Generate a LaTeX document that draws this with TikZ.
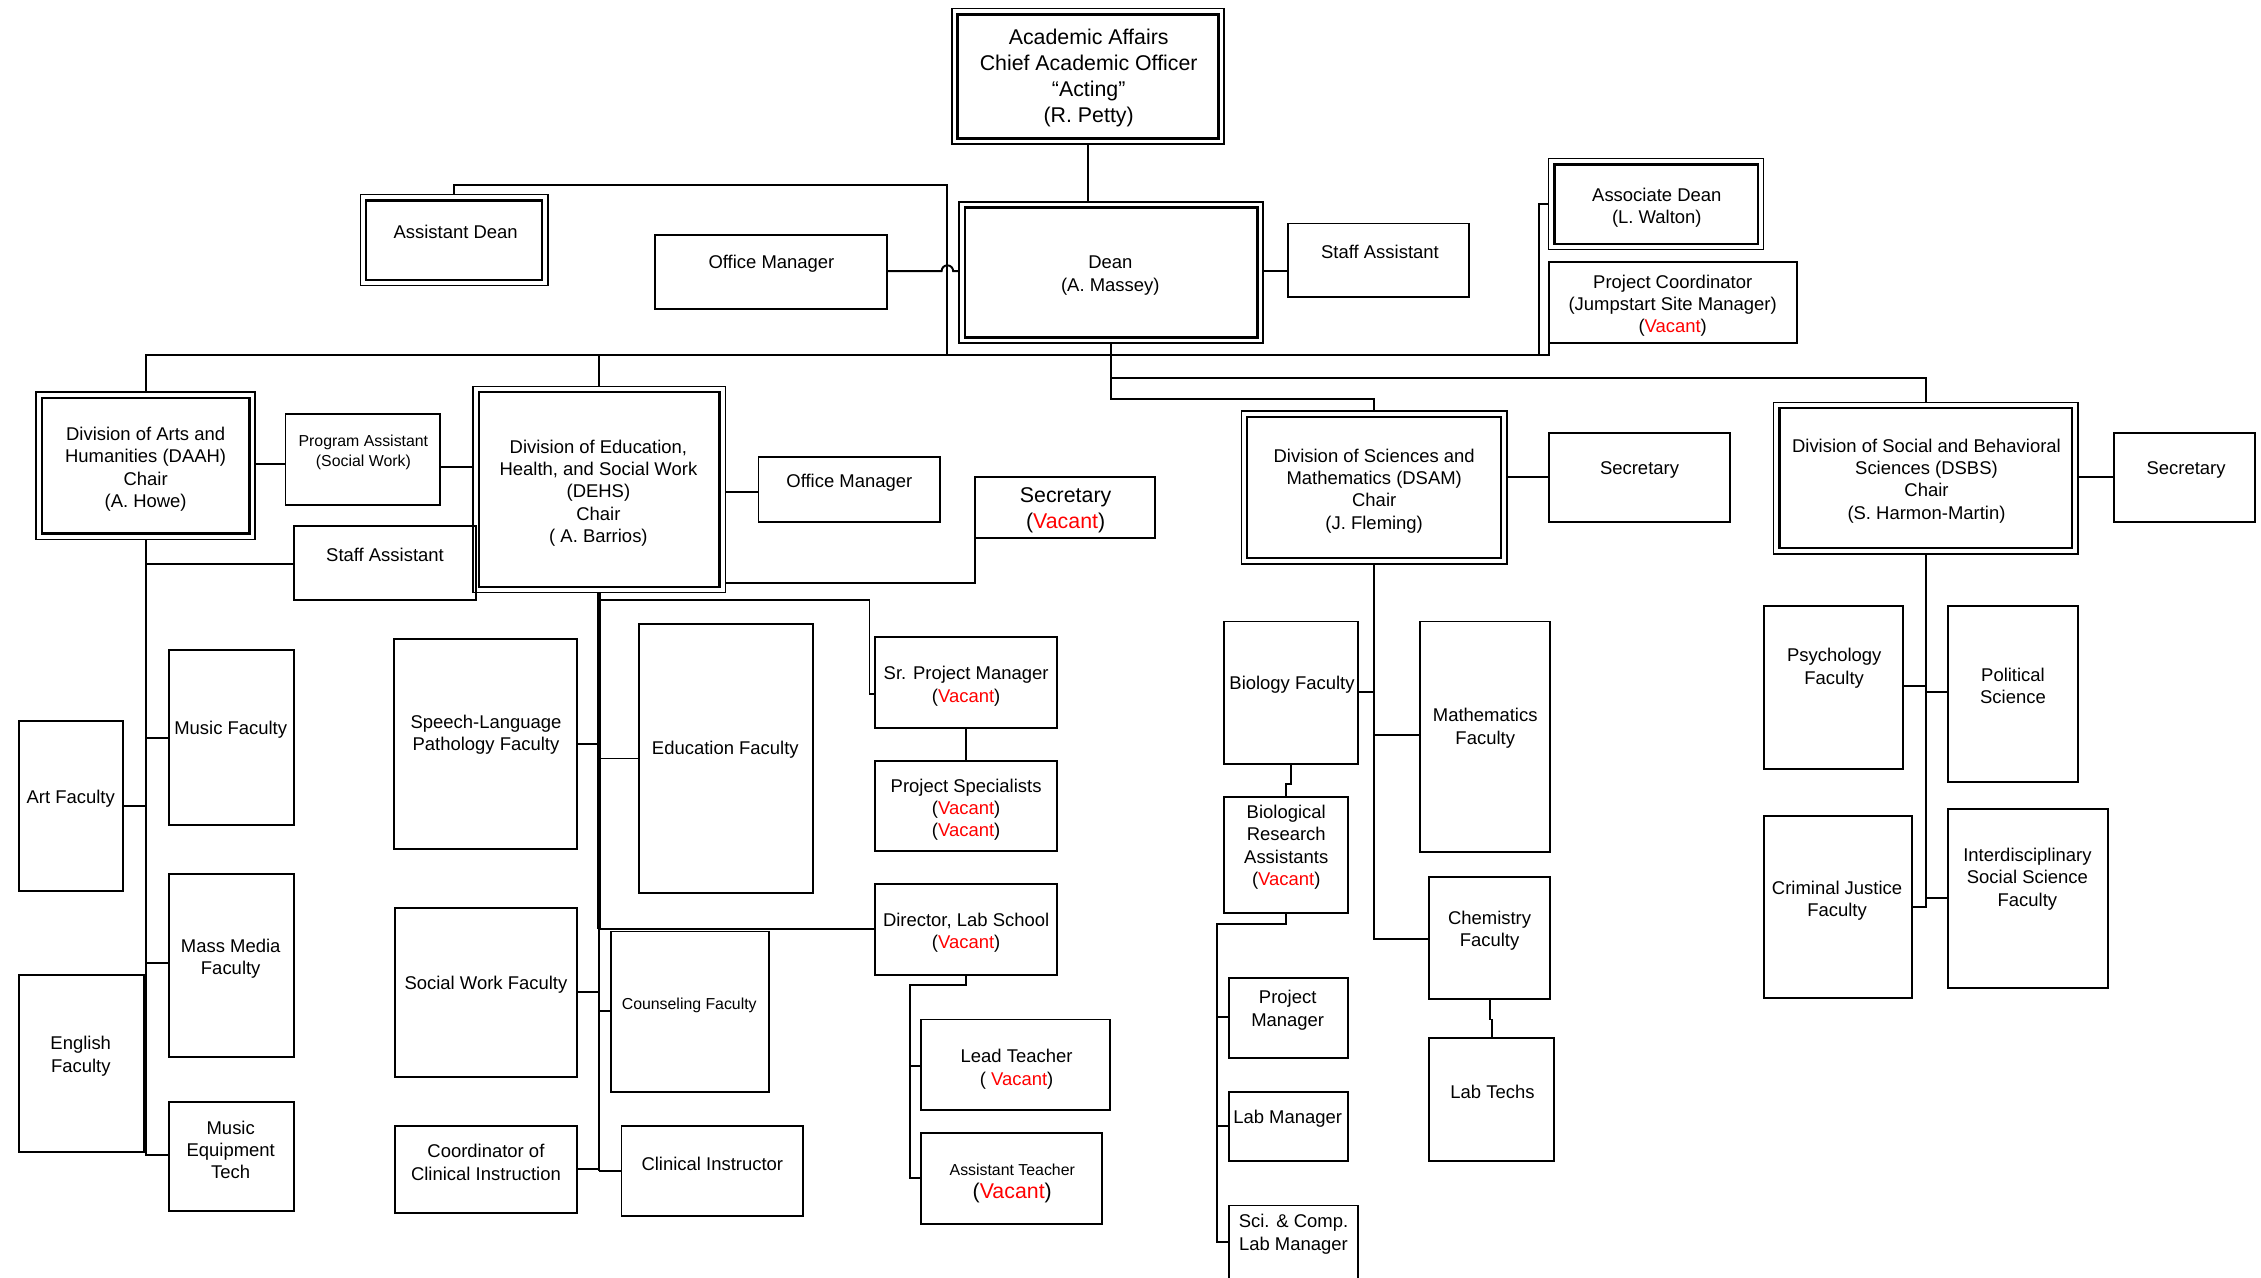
\documentclass[tikz,border=0pt]{standalone}
\usepackage{fontspec}
\setmainfont{Liberation Sans}
\newcommand\vac{\textcolor{red}{Vacant}}
\newcommand\mkbox[5]{\node[bx, minimum width={(#4-#2)*1pt}, minimum height={(#5-#3)*1pt}] (#1) at ({(#2+#4)/2},{(#3+#5)/2}) {};}
\newcommand\mkdbl[5]{\node[dblo, minimum width={(#4-#2)*1pt}, minimum height={(#5-#3)*1pt}] (#1) at ({(#2+#4)/2},{(#3+#5)/2}) {};
  \draw[dbli] ([shift={(4,4)}]#1.north west) rectangle ([shift={(-4,-4)}]#1.south east);}
\newcommand\tx[4][txt]{\node[#1] (#2) at (#3) {#4};}
\tikzset{
  bx/.style={draw, line width=1.35pt, inner sep=0pt, outer sep=0pt},
  dblo/.style={draw, line width=1.1pt, inner sep=0pt, outer sep=0pt},
  dbli/.style={line width=1.6pt},
  txtbase/.style={align=center, inner sep=0pt, yshift=-2pt},
  txt/.style={txtbase, font=\fontsize{12.8}{15.5}\selectfont},
  txtL/.style={txtbase, font=\fontsize{14.8}{18}\selectfont},
  txtS/.style={txtbase, font=\fontsize{11}{14}\selectfont},
  ln/.style={line width=1.35pt},
}
\begin{document}
\begin{tikzpicture}[x=1pt,y=-1pt]
\useasboundingbox (0,0) rectangle (1568,885.6);
% boxes
\mkdbl{acad}{660}{6}{849}{100}
\mkdbl{asstdean}{250}{135}{380}{198}
\mkbox{offmgr1}{454}{163}{615}{214}
\mkdbl{dean}{665}{140}{876}{238}
\mkbox{staff1}{893}{155}{1019}{206}
\mkdbl{assocdean}{1074}{110}{1223}{173}
\mkbox{projcoord}{1074}{182}{1246}{238}
\mkdbl{daah}{25}{272}{177}{374}
\mkbox{progasst}{198}{287}{305}{350}
\mkdbl{dehs}{328}{268}{503}{411}
\mkbox{staff2}{204}{365}{330}{416}
\mkbox{offmgr2}{526}{317}{652}{362}
\mkbox{sec1}{676}{331}{801}{373}
\mkbox{music}{117}{451}{204}{572}
\mkbox{art}{13}{500}{85}{618}
\mkbox{massmedia}{117}{606}{204}{733}
\mkbox{english}{13}{676}{100}{799}
\mkbox{musiceq}{117}{764}{204}{840}
\mkbox{slp}{273}{443}{400}{589}
\mkbox{edu}{443}{433}{564}{619}
\mkbox{socwork}{274}{630}{400}{747}
\mkbox{couns}{424}{646}{533}{757}
\mkbox{coord}{274}{781}{400}{841}
\mkbox{clininst}{431}{781}{557}{843}
\mkbox{srpm}{607}{442}{733}{505}
\mkbox{projspec}{607}{528}{733}{590}
\mkbox{director}{607}{613}{733}{676}
\mkbox{leadteach}{639}{707}{770}{770}
\mkbox{assteach}{639}{786}{764}{849}
\mkdbl{dsam}{861}{285}{1045}{391}
\mkbox{sec2}{1074}{300}{1200}{362}
\mkbox{bio}{849}{431}{942}{530}
\mkbox{math}{985}{431}{1075}{591}
\mkbox{chem}{991}{608}{1075}{693}
\mkbox{labtechs}{991}{720}{1078}{805}
\mkbox{bra}{849}{553}{935}{633}
\mkbox{pm}{852}{678}{935}{734}
\mkbox{labmgr}{852}{757}{935}{805}
\mkbox{scicomp}{852}{836}{942}{892}
\mkdbl{dsbs}{1230}{279}{1441}{384}
\mkbox{sec3}{1466}{300}{1564}{362}
\mkbox{psych}{1223}{420}{1320}{533}
\mkbox{polisci}{1351}{420}{1441}{542}
\mkbox{crimj}{1223}{566}{1326}{692}
\mkbox{interd}{1351}{561}{1462}{685}
% texts
\tx[txtL]{acad-t}{755,52}{Academic Affairs\\Chief Academic Officer\\“Acting”\\(R. Petty)}
\tx{asstdean-t}{316,159}{Assistant Dean}
\tx{offmgr1-t}{535,181}{Office Manager}
\tx{dean-t}{770,189}{Dean\\(A. Massey)}
\tx{staff1-t}{957,173}{Staff Assistant}
\tx{assocdean-t}{1149,142}{Associate Dean\\(L. Walton)}
\tx{projcoord-t}{1160,210}{Project Coordinator\\(Jumpstart Site Manager)\\(\vac)}
\tx{daah-t}{101,323.5}{Division of Arts and\\Humanities (DAAH)\\Chair\\(A. Howe)}
\tx[txtS]{progasst-t}{252,312}{Program Assistant\\(Social Work)}
\tx{dehs-t}{415,340}{Division of Education,\\Health, and Social Work\\(DEHS)\\Chair\\( A. Barrios)}
\tx{staff2-t}{267,383}{Staff Assistant}
\tx{offmgr2-t}{589,333}{Office Manager}
\tx[txtL]{sec1-t}{739,352}{Secretary\\(\vac)}
\tx{music-t}{160,504}{Music Faculty}
\tx{art-t}{49,552}{Art Faculty}
\tx{massmedia-t}{160,663}{Mass Media\\Faculty}
\tx{english-t}{56,730.5}{English\\Faculty}
\tx{musiceq-t}{160,795.5}{Music\\Equipment\\Tech}
\tx{slp-t}{337,507.5}{Speech-Language\\Pathology Faculty}
\tx{edu-t}{503,518}{Education Faculty}
\tx{socwork-t}{337,681}{Social Work Faculty}
\tx[txtS]{couns-t}{478,695}{Counseling Faculty}
\tx{coord-t}{337,804}{Coordinator of\\Clinical Instruction}
\tx{clininst-t}{494,805}{Clinical Instructor}
\tx{srpm-t}{670,474}{Sr. Project Manager\\(\vac)}
\tx{projspec-t}{670,559.5}{Project Specialists\\(\vac)\\(\vac)}
\tx{director-t}{670,645}{Director, Lab School\\(\vac)}
\tx{leadteach-t}{705,739.5}{Lead Teacher\\( \vac)}
\tx[txtS]{assteach-t1}{702,809}{Assistant Teacher}
\tx[txtL]{assteach-t2}{702,825}{(\vac)}
\tx{dsam-t}{953,338.5}{Division of Sciences and\\Mathematics (DSAM)\\Chair\\(J. Fleming)}
\tx{sec2-t}{1137,324}{Secretary}
\tx{bio-t}{896,473}{Biology Faculty}
\tx{math-t}{1030,503}{Mathematics\\Faculty}
\tx{chem-t}{1033,643.5}{Chemistry\\Faculty}
\tx{labtechs-t}{1035,755}{Lab Techs}
\tx{bra-t}{892,585.5}{Biological\\Research\\Assistants\\(\vac)}
\tx{pm-t}{893,698.5}{Project\\Manager}
\tx{labmgr-t}{893,774}{Lab Manager}
\tx{scicomp-t}{897,854}{Sci. \& Comp.\\Lab Manager}
\tx{dsbs-t}{1336,331.5}{Division of Social and Behavioral\\Sciences (DSBS)\\Chair\\(S. Harmon-Martin)}
\tx{sec3-t}{1516,324}{Secretary}
\tx{psych-t}{1272,461.5}{Psychology\\Faculty}
\tx{polisci-t}{1396,473.5}{Political\\Science}
\tx{crimj-t}{1274,622.5}{Criminal Justice\\Faculty}
\tx{interd-t}{1406,607.5}{Interdisciplinary\\Social Science\\Faculty}
% top connectors
\coordinate (adj) at (657,128);
\coordinate (adb) at (657,246);
\coordinate (bus) at (1067,246);
\draw[ln] (acad.south) -- (acad.south |- dean.north);
\draw[ln] (asstdean.north) |- (adj) -- (adb);
\draw[ln] (offmgr1.east |- 0,188) -- (653,188) arc[start angle=180,end angle=360,radius=4] -- (dean.west |- 0,188);
\draw[ln] (dean.east |- 0,188) -- (staff1.west |- 0,188);
\draw[ln] (daah.north) |- (bus) |- (assocdean.west);
\draw[ln] (bus) -| (projcoord.south west);
\draw[ln] (dehs.north) -- (dehs.north |- bus);
\draw[ln] (dean.south) -- (dean.south |- 0,277) -| (dsam.north);
\draw[ln] (dean.south |- 0,262) -| (dsbs.north);
% DAAH
\draw[ln] (daah.east |- 0,322) -- (progasst.west |- 0,322);
\draw[ln] (progasst.east |- 0,324) -- (dehs.west |- 0,324);
\draw[ln] (daah.south) -- (daah.south |- 0,801) -- (musiceq.west |- 0,801);
\draw[ln] (daah.south |- 0,391) -- (staff2.west |- 0,391);
\draw[ln] (daah.south |- 0,512) -- (music.west |- 0,512);
\draw[ln] (art.east |- 0,559) -- (daah.south |- 0,559);
\draw[ln] (daah.south |- 0,668) -- (massmedia.west |- 0,668);
% DEHS
\draw[ln] (dehs.east |- 0,341) -- (offmgr2.west |- 0,341);
\draw[ln] (dehs.east |- 0,404) -| (sec1.south west);
\draw[line width=2.4pt] (dehs.south) -- (dehs.south |- 0,644);
\draw[ln] (dehs.south |- 0,644) -- (dehs.south |- 0,812);
\draw[ln] (slp.east |- 0,516) -- (dehs.south |- 0,516);
\draw[ln] (dehs.south |- 0,526) -- (edu.west |- 0,526);
\draw[ln] (socwork.east |- 0,688) -- (dehs.south |- 0,688);
\draw[ln] (dehs.south |- 0,701) -- (couns.west |- 0,701);
\draw[ln] (coord.east |- 0,811) -- (dehs.south |- 0,811);
\draw[ln] (dehs.south |- 0,812) -- (clininst.west |- 0,812);
\coordinate (sp) at (603,481);
\draw[ln] (dehs.south |- 0,416) -| (sp) -- (srpm.west |- sp);
\draw[ln] (srpm.south) -- (projspec.north);
\draw[ln] (dehs.south |- 0,644) -- (director.west |- 0,644);
\coordinate (lt) at (631,683);
\draw[ln] (director.south) |- (lt) -- (lt |- 0,817) -- (assteach.west |- 0,817);
\draw[ln] (lt |- 0,739) -- (leadteach.west |- 0,739);
% DSAM
\draw[ln] (dsam.east |- 0,331) -- (sec2.west |- 0,331);
\draw[ln] (dsam.south) -- (dsam.south |- 0,651) -- (chem.west |- 0,651);
\draw[ln] (bio.east |- 0,480) -- (dsam.south |- 0,480);
\draw[ln] (dsam.south |- 0,510) -- (math.west |- 0,510);
\draw[ln] (chem.south) -- ++(0,14) -| (labtechs.north);
\draw[ln] (bio.south) -- (bio.south |- 0,544) -| (bra.north);
\coordinate (bt) at (844,641);
\draw[ln] (bra.south) |- (bt) -- (bt |- 0,861) -- (scicomp.west |- 0,861);
\draw[ln] (bt |- 0,705) -- (pm.west |- 0,705);
\draw[ln] (bt |- 0,781) -- (labmgr.west |- 0,781);
% DSBS
\draw[ln] (dsbs.east |- 0,331) -- (sec3.west |- 0,331);
\draw[ln] (dsbs.south) -- (dsbs.south |- 0,629) -- (crimj.east |- 0,629);
\draw[ln] (psych.east |- 0,476) -- (dsbs.south |- 0,476);
\draw[ln] (dsbs.south |- 0,480) -- (polisci.west |- 0,480);
\draw[ln] (dsbs.south |- 0,623) -- (interd.west |- 0,623);
\end{tikzpicture}
\end{document}
